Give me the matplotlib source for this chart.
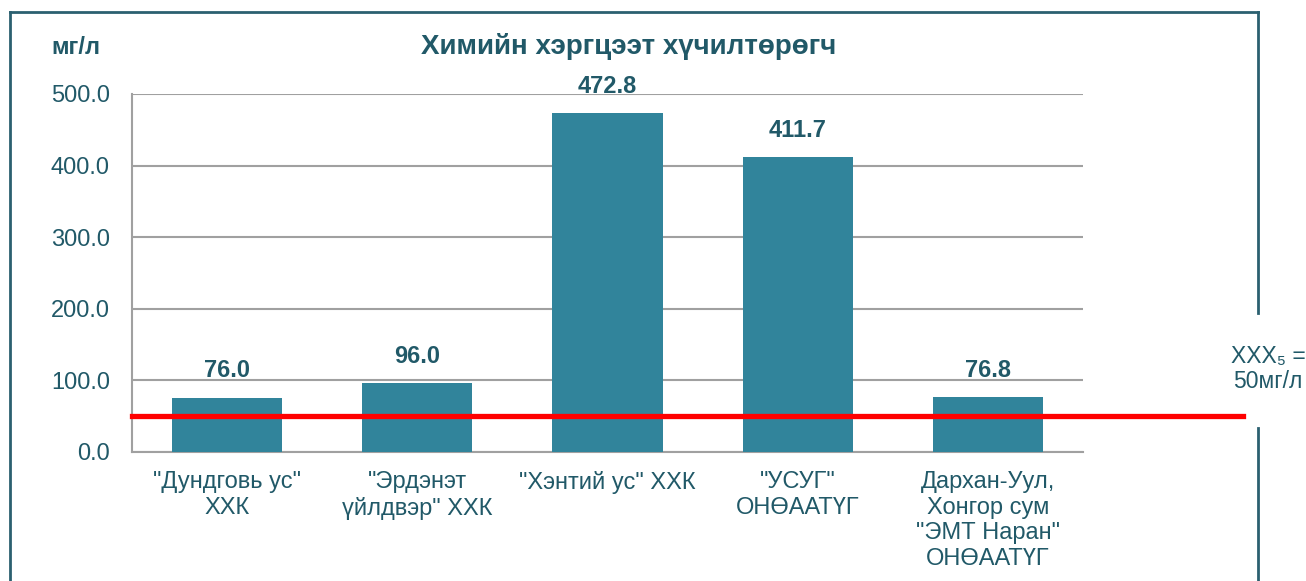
import matplotlib.pyplot as plt
from matplotlib.lines import Line2D

plt.rcParams['font.family'] = ['Liberation Sans', 'DejaVu Sans']

categories = ['"Дундговь ус"\nХХК', '"Эрдэнэт\nүйлдвэр" ХХК', '"Хэнтий ус" ХХК',
              '"УСУГ"\nОНӨААТҮГ', 'Дархан-Уул,\nХонгор сум\n"ЭМТ Наран"\nОНӨААТҮГ']
values = [76.0, 96.0, 472.8, 411.7, 76.8]
limit = 50
yticks = [0, 100, 200, 300, 400, 500]

txt = '#215968'
bar_col = '#31849B'
W, H = 1306, 581

fig = plt.figure(figsize=(W / 100, H / 100), dpi=100)
ax = fig.add_axes([132 / W, 1 - 452 / H, (1083 - 132) / W, (452 - 94) / H])

x = range(len(values))
ax.bar(x, values, width=0.58, color=bar_col, zorder=3)
for i, v in zip(x, values):
    ax.annotate(f'{v:.1f}', (i, v), xytext=(0, 11), textcoords='offset points',
                ha='center', va='bottom', fontsize=17, fontweight='bold', color=txt)

# red limit line, runs past the plot area on the right
ax.plot([-0.5, 5.34], [limit, limit], color='#FF0000', lw=3.8, clip_on=False, zorder=4)

ax.set_xlim(-0.5, 4.5)
ax.set_ylim(0, 500)
ax.set_yticks(yticks)
ax.set_yticklabels([f'{t:.1f}' for t in yticks], fontsize=17, color=txt)
ax.set_xticks(list(x))
ax.set_xticklabels(categories, fontsize=17, color=txt, linespacing=1.2)
ax.tick_params(axis='both', length=0)
ax.tick_params(axis='y', pad=16)
ax.tick_params(axis='x', pad=14)
ax.yaxis.grid(True, color='#A0A0A0', lw=1.5, zorder=0)
ax.set_axisbelow(True)
for s in ['top', 'right']:
    ax.spines[s].set_visible(False)
for s in ['left', 'bottom']:
    ax.spines[s].set_color('#A0A0A0')
    ax.spines[s].set_linewidth(1.5)

fig.text(629 / W, 1 - 47 / H, 'Химийн хэргцээт хүчилтөрөгч', ha='center', va='center',
         fontsize=20, fontweight='bold', color=txt)
fig.text(76 / W, 1 - 47 / H, 'мг/л', ha='center', va='center',
         fontsize=17, fontweight='bold', color=txt)
fig.text(1268 / W, 1 - 369 / H, 'ХХХ₅ =\n50мг/л', ha='center', va='center',
         fontsize=16.5, color=txt, linespacing=1.15)

# outer frame with a gap on the right for the limit note
fc = '#2B6070'
def fl(xs, ys):
    fig.add_artist(Line2D([a / W for a in xs], [1 - b / H for b in ys], color=fc, lw=2))
fl([10, 10], [12, 590])
fl([10, 1258], [12, 12])
fl([1258, 1258], [12, 313])
fl([1258, 1258], [428, 590])

fig.savefig('out.png', dpi=100)
